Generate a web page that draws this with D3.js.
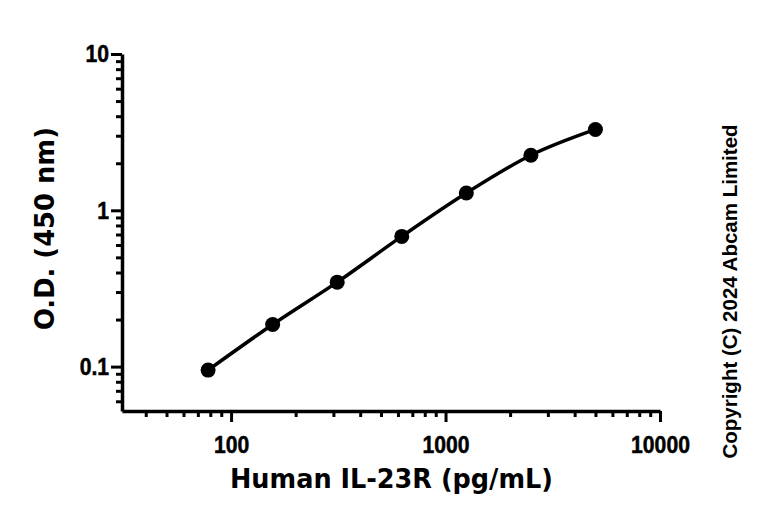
<html>
  <head>
    <script src="https://cdn.jsdelivr.net/npm/d3@7/dist/d3.min.js"></script>
    <style>
      * {
        margin: 0;
        padding: 0;
      }
      body {
        background-color: white;
      }
      .tick-label {
        font-family: "Liberation Sans", Arial, sans-serif;
        font-weight: 700;
        font-size: 23px;
        fill: black;
        stroke: black;
        stroke-width: 0.5px;
      }
      .title {
        font-family: "DejaVu Sans", sans-serif;
        font-weight: 700;
        font-size: 26px;
        fill: black;
      }
      .copy {
        font-family: "Liberation Sans", Arial, sans-serif;
        font-weight: 700;
        font-size: 20.5px;
        fill: black;
      }
    </style>
  </head>
  <body>
    <div id="chart"></div>
    <script>
      // concentration (pg/mL) and O.D. at 450 nm
      const concentrations = [78.125, 156.25, 312.5, 625, 1250, 2500, 5000];
      const odValues = [0.095, 0.186, 0.347, 0.681, 1.29, 2.25, 3.29];

      const xMajorTicks = [100, 1000, 10000];
      const xTickLabels = ["100", "1000", "10000"];
      const xMinorTicks = [40, 50, 60, 70, 80, 90, 200, 300, 400, 500, 600, 700, 800, 900,
        2000, 3000, 4000, 5000, 6000, 7000, 8000, 9000];
      const yMajorTicks = [0.1, 1, 10];
      const yTickLabels = ["0.1", "1", "10"];
      const yMinorTicks = [0.06, 0.07, 0.08, 0.09, 0.2, 0.3, 0.4, 0.5, 0.6, 0.7, 0.8, 0.9,
        2, 3, 4, 5, 6, 7, 8, 9];

      const w = 768;
      const h = 520;
      const mLeft = 122, mRight = 660, mTop = 54, mBottom = 411;

      const data = concentrations.map((c, i) => [c, odValues[i]]);

      const xScale = d3.scaleLog().domain([31, 10000]).range([mLeft, mRight]);
      const yScale = d3.scaleLog().domain([0.052, 10]).range([mBottom, mTop]);

      const svg = d3.select("#chart")
        .append("svg")
        .attr("width", w)
        .attr("height", h);

      // minor ticks
      svg.append("g")
        .attr("transform", "translate(0," + mBottom + ")")
        .call(d3.axisBottom(xScale).tickValues(xMinorTicks).tickSize(6).tickFormat(""))
        .call(g => g.select(".domain").remove());
      svg.append("g")
        .attr("transform", "translate(" + mLeft + ",0)")
        .call(d3.axisLeft(yScale).tickValues(yMinorTicks).tickSize(6).tickFormat(""))
        .call(g => g.select(".domain").remove());

      // major ticks with labels
      const xAxis = svg.append("g")
        .attr("transform", "translate(0," + mBottom + ")")
        .call(d3.axisBottom(xScale).tickValues(xMajorTicks).tickSize(11).tickSizeOuter(0)
          .tickPadding(13).tickFormat((d, i) => xTickLabels[i]));
      const yAxis = svg.append("g")
        .attr("transform", "translate(" + mLeft + ",0)")
        .call(d3.axisLeft(yScale).tickValues(yMajorTicks).tickSize(11).tickSizeOuter(0)
          .tickPadding(3).tickFormat((d, i) => yTickLabels[i]));

      svg.selectAll(".tick line").attr("stroke", "black").attr("stroke-width", 3);
      svg.selectAll(".domain").attr("stroke", "black").attr("stroke-width", 3.5);
      svg.selectAll(".tick text").attr("class", "tick-label")
        .attr("transform", "scale(0.92,1.05)");
      yAxis.selectAll("text").attr("dy", "0.33em");

      // curve
      const line = d3.line()
        .x(d => xScale(d[0]))
        .y(d => yScale(d[1]))
        .curve(d3.curveMonotoneX);

      svg.append("path")
        .datum(data)
        .attr("d", line)
        .attr("fill", "none")
        .attr("stroke", "black")
        .attr("stroke-width", 3.5);

      svg.selectAll("circle")
        .data(data)
        .enter()
        .append("circle")
        .attr("cx", d => xScale(d[0]))
        .attr("cy", d => yScale(d[1]))
        .attr("r", 7.5)
        .attr("fill", "black");

      // titles
      svg.append("text")
        .attr("class", "title")
        .attr("x", 391.5)
        .attr("y", 488)
        .attr("text-anchor", "middle")
        .attr("textLength", 323)
        .attr("lengthAdjust", "spacingAndGlyphs")
        .text("Human IL-23R (pg/mL)");

      svg.append("text")
        .attr("class", "title")
        .attr("transform", "translate(54,228.5) rotate(-90)")
        .attr("text-anchor", "middle")
        .attr("textLength", 203)
        .attr("lengthAdjust", "spacingAndGlyphs")
        .text("O.D. (450 nm)");

      svg.append("text")
        .attr("class", "copy")
        .attr("transform", "translate(737,291.5) rotate(-90)")
        .attr("text-anchor", "middle")
        .text("Copyright (C) 2024 Abcam Limited");
    </script>
  </body>
</html>
